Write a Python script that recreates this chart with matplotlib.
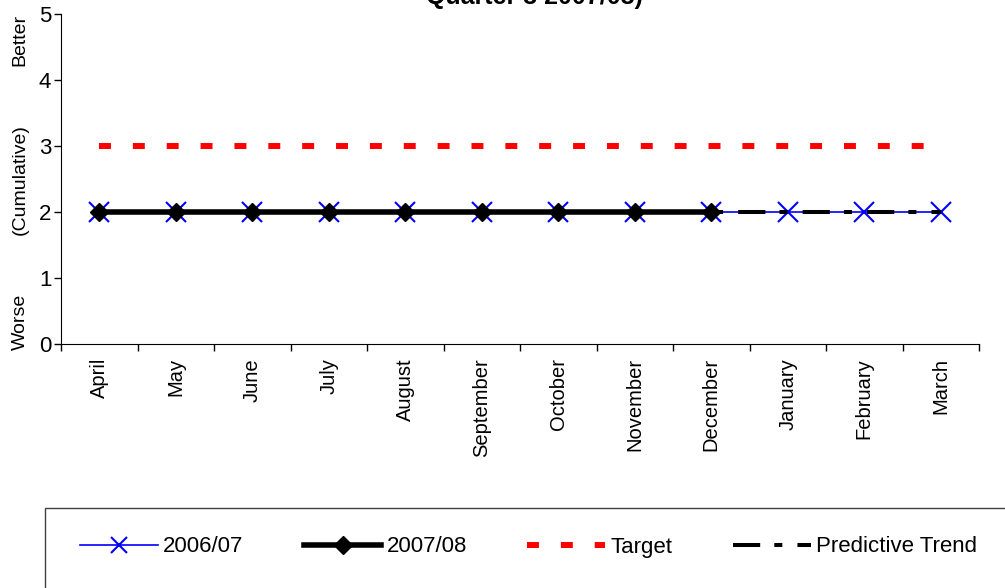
import matplotlib
matplotlib.use("Agg")
import matplotlib.pyplot as plt
from matplotlib.patches import Rectangle
from matplotlib.lines import Line2D

plt.rcParams['font.family'] = ['Liberation Sans', 'DejaVu Sans']

months = ['April', 'May', 'June', 'July', 'August', 'September', 'October',
          'November', 'December', 'January', 'February', 'March']
prev_year = [2, 2, 2, 2, 2, 2, 2, 2, 2, 2, 2, 2]      # 2006/07
this_year = [2, 2, 2, 2, 2, 2, 2, 2, 2]               # 2007/08 (Apr-Dec)
target = [3] * 12
trend_months = ['December', 'January', 'February', 'March']
trend = [2, 2, 2, 2]

x_all = list(range(len(months)))
x_this = x_all[:len(this_year)]
x_trend = [months.index(m) for m in trend_months]

fig = plt.figure(figsize=(10.05, 5.88), dpi=100)
ax = fig.add_axes([61/1005, 1-344/588, (979-61)/1005, (344-14)/588])

ax.plot(x_all, prev_year, color='#0000ff', lw=1.2, marker='x', ms=14,
        mew=1.5, zorder=2)
ax.plot(x_this, this_year, color='black', lw=4.0, marker='D', ms=9.5, zorder=3)
ax.plot(x_all, target, color='#ff0000', lw=4.3, linestyle=(0, (2.0, 3.67)),
        dash_capstyle='butt', zorder=3)
ax.plot(x_trend, trend, color='black', lw=2.9,
        linestyle=(9.25, (6.75, 3.5, 2.0, 3.75)),
        dash_capstyle='butt', zorder=4)

ax.set_xlim(-0.5, len(months) - 0.5)
ax.set_ylim(0, 5)
ax.set_yticks([0, 1, 2, 3, 4, 5])
ax.set_xticks([i - 0.5 for i in range(len(months) + 1)])
ax.set_xticklabels([])
ax.set_xticks(x_all, minor=True)
ax.set_xticklabels(months, minor=True, rotation=90, fontsize=14.5, va='top')
ax.tick_params(axis='x', which='minor', length=0, pad=10)
ax.tick_params(axis='x', which='major', length=5, width=1)
ax.tick_params(axis='y', labelsize=16, length=5, width=1, pad=2)
for s in ['top', 'right']:
    ax.spines[s].set_visible(False)

# y axis captions
fig.text(20/1005, 1-40/588, 'Better', rotation=90, ha='center', va='center', fontsize=14)
fig.text(20/1005, 1-180/588, '(Cumulative)', rotation=90, ha='center', va='center', fontsize=14)
fig.text(20/1005, 1-322/588, 'Worse', rotation=90, ha='center', va='center', fontsize=14)

# title, cut off at the top edge
fig.text(534/1005, 1-4/588, 'Quarter 3 2007/08)', ha='center', va='baseline',
         fontsize=18, fontweight='bold')

# legend box
fig.patches.append(Rectangle((45/1005, -0.1), 1.0, 0.1+1-508/588,
                             transform=fig.transFigure, fill=False,
                             edgecolor='#404040', lw=1))
handles = [
    Line2D([], [], color='#0000ff', lw=1.2, marker='x', ms=12, mew=1.5),
    Line2D([], [], color='black', lw=4.0, marker='D', ms=9.5),
    Line2D([], [], color='#ff0000', lw=4.3, linestyle=(0, (2.0, 3.67)),
           dash_capstyle='butt'),
    Line2D([], [], color='black', lw=2.9, linestyle=(0, (6.75, 3.5, 2.0, 3.75)),
           dash_capstyle='butt'),
]
labels = ['2006/07', '2007/08', 'Target', 'Predictive Trend']
fig.legend(handles, labels, loc='center left', ncol=4,
           bbox_to_anchor=(80/1005, 1-547/588), frameon=False,
           borderaxespad=0, borderpad=0, fontsize=16,
           handlelength=3.5, handletextpad=0.25, columnspacing=2.7)

fig.savefig('out.png', dpi=100)
